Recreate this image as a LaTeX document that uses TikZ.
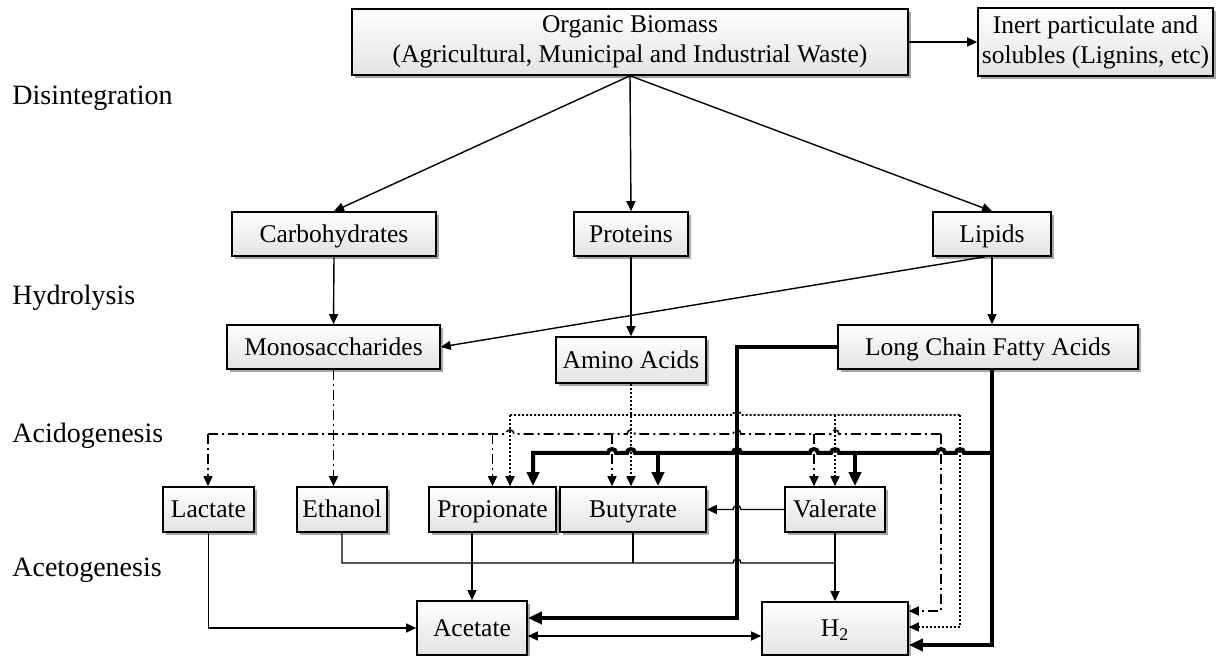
\documentclass[tikz,border=0pt]{standalone}
\usepackage{fontspec}
\setmainfont{Liberation Serif}
\usetikzlibrary{arrows.meta,shadows,calc}
\newcommand\hopR[2]{-- ({#1-4},#2) .. controls ({#1-4},{#2-5.3}) and ({#1+4},{#2-5.3}) .. ({#1+4},#2)}
\newcommand\hopL[2]{-- ({#1+4},#2) .. controls ({#1+4},{#2-5.3}) and ({#1-4},{#2-5.3}) .. ({#1-4},#2)}
\newcommand\bx[7][sl]{\node[box, #1, minimum width={(#5-#3)*0.5pt}, minimum height={(#6-#4)*0.5pt}] (#2) at ({(#3+#5)/2},{(#4+#6)/2}) {#7};}
\begin{document}
\begin{tikzpicture}[x=0.5pt,y=-0.5pt,
  box/.style={draw=black, line width=0.8pt, top color=white, bottom color=black!11,
    drop shadow={shadow xshift=1.3pt, shadow yshift=-1.3pt, fill=black!35, opacity=1},
    inner sep=0pt, font=\fontsize{12.75}{15}\selectfont, align=center},
  sl/.style={text height=11pt, text depth=2.5pt},
  ml/.style={},
  lbl/.style={anchor=west, inner sep=0pt, font=\fontsize{14}{16}\selectfont},
  ln/.style={line width=0.7pt},
  >={Triangle[length=5pt,width=4.5pt]},
  tarr/.style={ln, ->},
  thk/.style={line width=2pt},
  karr/.style={thk, -{Triangle[length=7pt,width=6pt]}},
  dt/.style={line width=0.8pt, dash pattern=on 1pt off 1pt},
  dtarr/.style={dt, ->},
  dd/.style={line width=0.8pt, dash pattern=on 5pt off 2pt on 1pt off 2pt},
  ddarr/.style={dd, ->},
]
\useasboundingbox (0,0) rectangle (1221,656);

% boxes
\bx[ml]{org}{352}{9}{908}{75}{Organic Biomass\\(Agricultural, Municipal and Industrial Waste)}
\bx[ml]{inert}{978}{8}{1213}{76}{Inert particulate and\\solubles (Lignins, etc)}
\bx{carb}{232}{212}{436}{256}{Carbohydrates}
\bx{prot}{574}{212}{688}{256}{Proteins}
\bx{lip}{933}{212}{1051}{256}{Lipids}
\bx{mono}{227}{325}{440}{369}{Monosaccharides}
\bx{amino}{556}{337}{706}{383}{Amino Acids}
\bx{lcfa}{838}{325}{1138}{369}{Long Chain Fatty Acids}
\bx{lact}{163}{487}{254}{532}{Lactate}
\bx{eth}{297}{487}{387}{532}{Ethanol}
\bx{prop}{429}{487}{556}{532}{Propionate}
\bx{but}{560}{487}{706}{532}{Butyrate}
\bx{val}{785}{487}{885}{532}{Valerate}
\bx{acet}{417}{601}{527}{655}{Acetate}
\bx{htwo}{762}{602}{908}{655}{H\textsubscript{2}}

% stage labels
\node[lbl] (ldis) at (12,98) {Disintegration};
\node[lbl] (lhyd) at (12,298) {Hydrolysis};
\node[lbl] (laci) at (12,436) {Acidogenesis};
\node[lbl] (lace) at (12,570) {Acetogenesis};

% top connectors
\draw[tarr] (org.east) -- (inert.west);
\draw[tarr] (org.south) -- (carb.north);
\draw[tarr] (org.south) -- (prot.north);
\draw[tarr] (org.south) -- (lip.north);
\draw[tarr] (carb.south) -- (mono.north);
\draw[tarr] (prot.south) -- (amino.north);
\draw[tarr] (lip.south) -- (lip.south |- lcfa.north);
\draw[tarr] ($(lip.south)+(-7,0)$) -- (mono.east);

% dotted (amino acids)
\coordinate (dotL) at (510,415);
\coordinate (dotR) at (960,415);
\coordinate (dotV) at (835,415);
\draw[dtarr] (amino.south) -- (amino.south |- but.north);
\draw[dt] (dotL) \hopR{737}{415} -- (dotR);
\draw[dtarr] (dotL) -- (dotL |- prop.north);
\draw[dtarr] (dotV) -- (val.north);
\draw[dtarr] (dotR) |- ($(htwo.east)+(0,-1.5)$);

% dash-dot (monosaccharides)
\coordinate (ddL) at (208,434);
\coordinate (ddR) at (941,434);
\coordinate (ddB) at (612,434);
\coordinate (ddV) at (814,434);
\draw[ddarr] (mono.south) -- (mono.south |- eth.north);
\draw[dd] (ddL) \hopR{510}{434} \hopR{631}{434} \hopR{737}{434} \hopR{835}{434} -- (ddR);
\draw[ddarr] (ddL) -- (ddL |- lact.north);
\draw[ddarr] (prop.north |- ddL) -- (prop.north);
\draw[ddarr] (ddB) -- (ddB |- but.north);
\draw[ddarr] (ddV) -- (ddV |- val.north);
\draw[ddarr] (ddR) |- ($(htwo.east)+(0,-17.5)$);

% thick (long chain fatty acids)
\coordinate (kR) at (992,453);
\coordinate (kP) at (533,453);
\coordinate (kB) at (658,453);
\coordinate (kV) at (855,453);
\coordinate (kA) at (737,618);
\draw[karr] (lcfa.south -| lip.south) |- ($(htwo.east)+(0,16.5)$);
\draw[karr] (kR) \hopL{960}{453} \hopL{941}{453} \hopL{835}{453} \hopL{814}{453} \hopL{737}{453} \hopL{631}{453} \hopL{612}{453} -- (kP) -- (kP |- prop.north);
\draw[karr] (kB) -- (kB |- but.north);
\draw[karr] (kV) -- (kV |- val.north);
\draw[karr] (lcfa.west) -| (kA) -- (kA -| acet.east);

% acetogenesis connectors
\draw[tarr] (val.west) \hopL{737}{509.5} -- (but.east);
\draw[tarr] (lact.south) |- (acet.west);
\coordinate (eJ) at (835,563);
\draw[ln] (eth.south) -- (eth.south |- eJ) \hopR{737}{563} -- (eJ);
\draw[ln] (but.south) -- (but.south |- eJ);
\draw[tarr] (val.south) -- (htwo.north);
\draw[tarr] (prop.south -| acet.north) -- (acet.north);
\draw[ln, <->] ($(acet.east)+(0,8)$) -- ($(htwo.west)+(0,7.5)$);
\end{tikzpicture}
\end{document}
